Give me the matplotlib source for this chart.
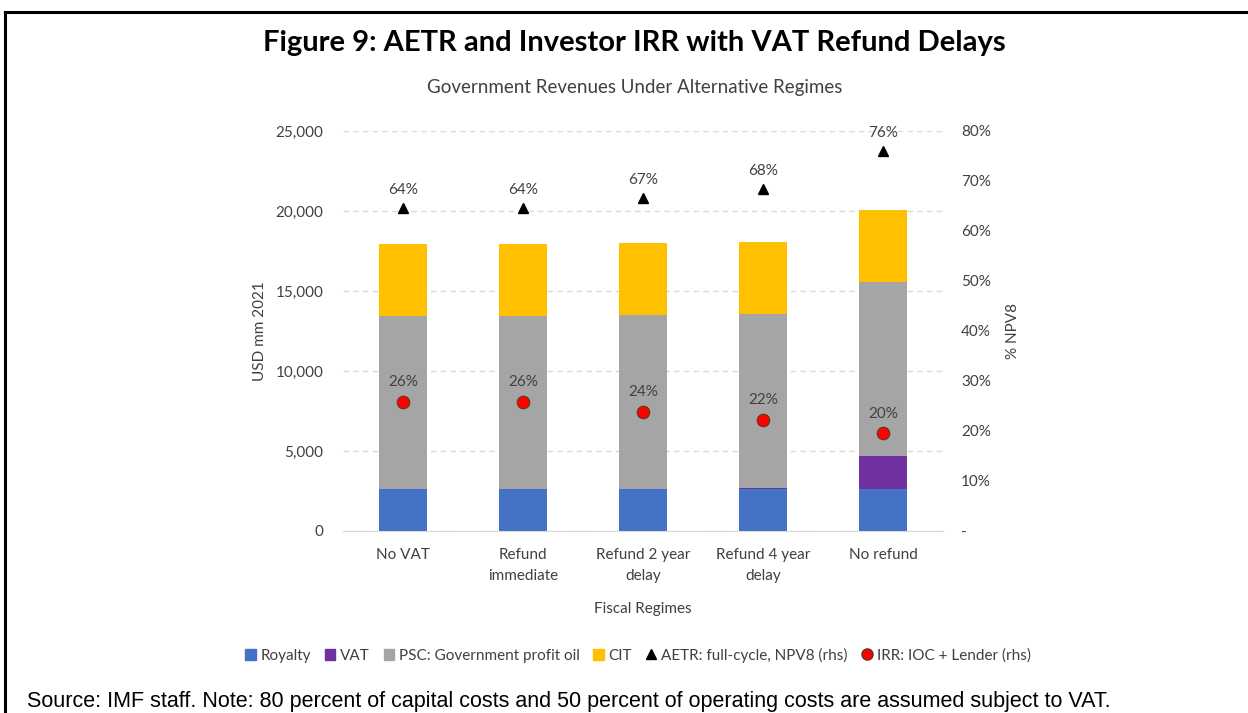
import matplotlib
matplotlib.use("Agg")
import matplotlib.pyplot as plt
from matplotlib.lines import Line2D
from matplotlib.patches import Patch

# Data
regimes = ["No VAT", "Refund\nimmediate", "Refund 2 year\ndelay", "Refund 4 year\ndelay", "No refund"]
royalty = [2650, 2650, 2650, 2650, 2650]
vat = [0, 0, 0, 60, 2040]
psc = [10800, 10800, 10850, 10850, 10870]
cit = [4500, 4500, 4500, 4500, 4500]
aetr = [64.6, 64.6, 66.6, 68.4, 76.0]
aetr_lbl = ["64%", "64%", "67%", "68%", "76%"]
irr = [25.8, 25.8, 23.8, 22.2, 19.6]
irr_lbl = ["26%", "26%", "24%", "22%", "20%"]

C_ROY = "#4472C4"
C_VAT = "#7030A0"
C_PSC = "#A5A5A5"
C_CIT = "#FFC000"
TXT = "#404040"

plt.rcParams["font.family"] = ["Lato", "DejaVu Sans"]

fig = plt.figure(figsize=(12.48, 7.13), dpi=100)
ax = fig.add_axes([343 / 1248, 1 - 531 / 713, 600 / 1248, 400 / 713])

x = list(range(len(regimes)))
w = 0.4
b1 = royalty
b2 = [a + b for a, b in zip(b1, vat)]
b3 = [a + b for a, b in zip(b2, psc)]
ax.bar(x, royalty, w, color=C_ROY, zorder=2)
ax.bar(x, vat, w, bottom=b1, color=C_VAT, zorder=2)
ax.bar(x, psc, w, bottom=b2, color=C_PSC, zorder=2)
ax.bar(x, cit, w, bottom=b3, color=C_CIT, zorder=2)

ax.set_xlim(-0.5, 4.5)
ax.set_ylim(0, 25000)
ax.set_yticks(range(0, 25001, 5000))
ax.set_yticklabels([f"{v:,}" for v in range(0, 25001, 5000)])
ax.yaxis.grid(True, linestyle=(0, (4, 3)), color="#D9D9D9", linewidth=1)
ax.set_axisbelow(True)
for s in ["top", "right", "left"]:
    ax.spines[s].set_visible(False)
ax.spines["bottom"].set_color("#D9D9D9")
ax.set_xticks(x)
ax.set_xticklabels(regimes, fontsize=11, color=TXT, linespacing=1.65)
ax.tick_params(axis="both", length=0, colors=TXT, labelsize=11)
ax.tick_params(axis="y", pad=14)
ax.tick_params(axis="x", pad=12)
ax.set_ylabel("USD mm 2021", fontsize=11, color=TXT, labelpad=6)
ax.set_xlabel("Fiscal Regimes", fontsize=11, color=TXT, labelpad=14)

ax2 = ax.twinx()
ax2.set_ylim(0, 80)
ax2.set_yticks(range(0, 81, 10))
ax2.set_yticklabels(["-"] + [f"{v}%" for v in range(10, 81, 10)])
for s in ax2.spines.values():
    s.set_visible(False)
ax2.tick_params(axis="y", length=0, colors=TXT, labelsize=11, pad=13)
ax2.set_ylabel("% NPV8", fontsize=11, color=TXT, labelpad=11)

ax2.plot(x, aetr, linestyle="none", marker="^", color="black", markersize=7, zorder=3)
ax2.plot(x, irr, linestyle="none", marker="o", markerfacecolor="#FF0000",
         markeredgecolor="#5A3A1A", markeredgewidth=0.8, markersize=9, zorder=3)
for xi, v, t in zip(x, aetr, aetr_lbl):
    ax2.annotate(t, (xi, v), xytext=(0, 8), textcoords="offset points",
                 ha="center", va="bottom", fontsize=11, color=TXT)
for xi, v, t in zip(x, irr, irr_lbl):
    ax2.annotate(t, (xi, v), xytext=(0, 9), textcoords="offset points",
                 ha="center", va="bottom", fontsize=11, color=TXT)

fig.text(634 / 1248, 1 - 43 / 713, "Figure 9: AETR and Investor IRR with VAT Refund Delays",
         ha="center", va="center", fontsize=21, fontweight="bold", color="black")
fig.text(635 / 1248, 1 - 87 / 713, "Government Revenues Under Alternative Regimes",
         ha="center", va="center", fontsize=13.5, color=TXT)

handles = [
    Patch(color=C_ROY, label="Royalty"),
    Patch(color=C_VAT, label="VAT"),
    Patch(color=C_PSC, label="PSC: Government profit oil"),
    Patch(color=C_CIT, label="CIT"),
    Line2D([], [], linestyle="none", marker="^", color="black", markersize=7,
           label="AETR: full-cycle, NPV8 (rhs)"),
    Line2D([], [], linestyle="none", marker="o", markerfacecolor="#FF0000",
           markeredgecolor="#5A3A1A", markersize=8, label="IRR: IOC + Lender (rhs)"),
]
fig.legend(handles=handles, loc="center", bbox_to_anchor=(638 / 1248, 1 - 655 / 713),
           ncol=6, frameon=False, fontsize=11, handlelength=0.7, handleheight=0.7,
           handletextpad=0.3, columnspacing=0.9, labelcolor=TXT)

fig.text(27 / 1248, 1 - 701 / 713,
         "Source: IMF staff. Note: 80 percent of capital costs and 50 percent of operating costs are assumed subject to VAT.",
         ha="left", va="center", fontsize=15.5, family=["Liberation Sans", "DejaVu Sans"], color="black")

# frame lines around the figure box
fig.add_artist(Line2D([5 / 1248, 1], [1 - 12 / 713, 1 - 12 / 713], color="black", linewidth=2.2))
fig.add_artist(Line2D([5 / 1248, 5 / 1248], [0, 1 - 12 / 713], color="black", linewidth=2.2))

fig.savefig("out.png", dpi=100)
